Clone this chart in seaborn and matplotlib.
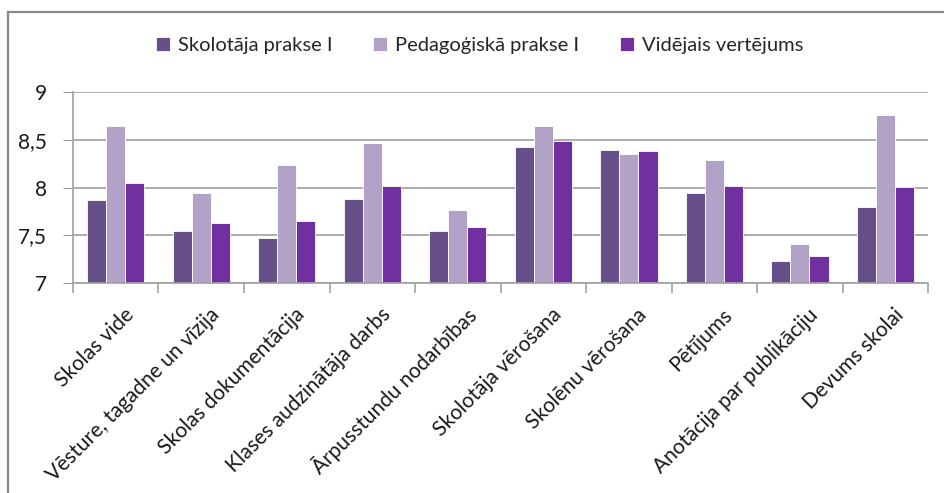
import matplotlib
matplotlib.use("Agg")
import matplotlib.pyplot as plt
import matplotlib.transforms as mtransforms
import seaborn as sns
import pandas as pd
import numpy as np

categories = ["Skolas vide", "Vēsture, tagadne un vīzija", "Skolas dokumentācija",
              "Klases audzinātāja darbs", "Ārpusstundu nodarbības", "Skolotāja vērošana",
              "Skolēnu vērošana", "Pētījums", "Anotācija par publikāciju", "Devums skolai"]
series = ["Skolotāja prakse I", "Pedagoģiskā prakse I", "Vidējais vertējums"]
skolotaja = [7.87, 7.54, 7.47, 7.88, 7.55, 8.43, 8.39, 7.94, 7.23, 7.80]
pedagogiska = [8.65, 7.94, 8.24, 8.47, 7.76, 8.65, 8.35, 8.29, 7.41, 8.76]
videjais = [8.05, 7.63, 7.65, 8.02, 7.59, 8.49, 8.38, 8.02, 7.28, 8.01]
colors = ["#67508a", "#b2a2c7", "#7030a0"]

rows = []
for name, vals in zip(series, [skolotaja, pedagogiska, videjais]):
    for c, v in zip(categories, vals):
        rows.append({"cat": c, "series": name, "val": v})
df = pd.DataFrame(rows)

sns.set_style("white")
plt.rcParams["font.family"] = ["Lato", "DejaVu Sans"]

fig = plt.figure(figsize=(9.44, 4.93), dpi=100)
ax = fig.add_axes([0.0773, 0.426, 0.906, 0.387])

sns.barplot(data=df, x="cat", y="val", hue="series", hue_order=series,
            palette=colors, width=0.67, edgecolor="white", linewidth=0.6,
            saturation=1, ax=ax, legend=True)

ax.set_ylim(7, 9)
ax.set_xlim(-0.5, len(categories) - 0.5)
ax.set_yticks([7, 7.5, 8, 8.5, 9])
ax.set_yticklabels(["7", "7,5", "8", "8,5", "9"])
ax.yaxis.grid(True, color="#a0a0a0", linewidth=1.2)
ax.set_axisbelow(True)
ax.set_xlabel("")
ax.set_ylabel("")

for s in ["top", "right"]:
    ax.spines[s].set_visible(False)
for s in ["left", "bottom"]:
    ax.spines[s].set_color("#a0a0a0")
    ax.spines[s].set_linewidth(1.2)

ax.tick_params(axis="y", which="both", left=True, length=7, color="#a0a0a0",
               labelsize=15, pad=12, labelcolor="#1a1a1a")
ax.set_xticks(np.arange(len(categories)))
ax.set_xticklabels(categories, rotation=45, ha="right", rotation_mode="anchor",
                   fontsize=15, color="#1a1a1a")
ax.tick_params(axis="x", which="major", bottom=False, pad=12)
shift = mtransforms.ScaledTranslation(8 / 100, 0, fig.dpi_scale_trans)
for lbl in ax.get_xticklabels():
    lbl.set_transform(lbl.get_transform() + shift)
ax.set_xticks(np.arange(len(categories) + 1) - 0.5, minor=True)
ax.tick_params(axis="x", which="minor", bottom=True, length=7, color="#a0a0a0", width=1.2)

ax.get_legend().remove()
handles, labels = ax.get_legend_handles_labels()
fig.legend(handles, labels, loc="center", bbox_to_anchor=(0.508, 0.907), ncol=3,
           frameon=False, fontsize=14.5, handlelength=0.7, handleheight=0.7,
           handletextpad=0.4, columnspacing=2.0)

# chart area border (top and left edges)
fig.add_artist(plt.Line2D([0.0085, 1.0], [0.976, 0.976], color="#888888", linewidth=1.6))
fig.add_artist(plt.Line2D([0.0085, 0.0085], [0.0, 0.976], color="#888888", linewidth=1.6))

fig.savefig("out.png", dpi=100)
